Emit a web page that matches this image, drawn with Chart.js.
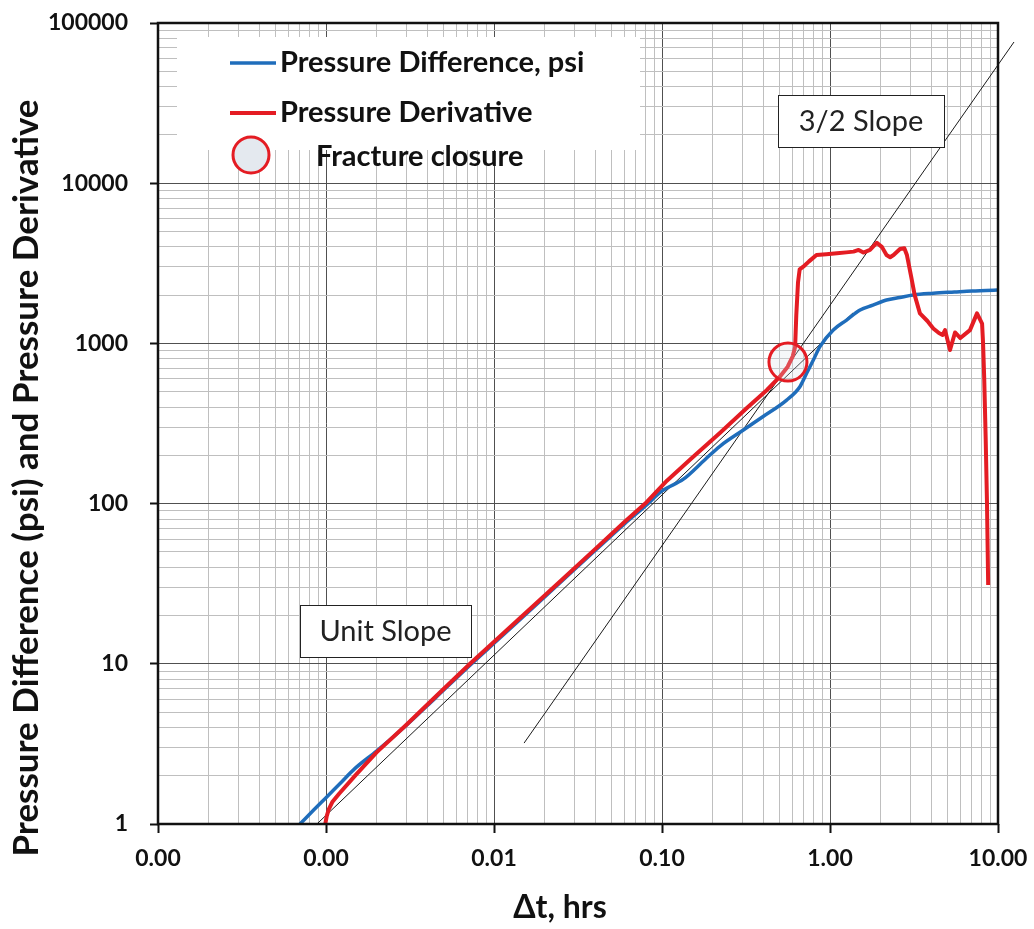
<!DOCTYPE html>
<html>
<head>
<meta charset="utf-8">
<title>Pressure Difference and Pressure Derivative</title>
<script src="https://cdn.jsdelivr.net/npm/chart.js@4.4.1/dist/chart.umd.min.js"></script>
<style>
  html, body { margin: 0; padding: 0; background: #fff; }
  #wrap { position: relative; width: 1034px; height: 929px; }
</style>
</head>
<body>
<div id="wrap"><canvas id="myChart"></canvas></div>
<script>
'use strict'

// ------------------------- Data -------------------------------------- //
// Pressure Difference, psi (blue)
const diffX = [0.0007, 0.00085, 0.001, 0.0012, 0.0015, 0.002, 0.003, 0.0045, 0.0072, 0.011, 0.016, 0.025, 0.04, 0.06, 0.08, 0.1, 0.134, 0.18, 0.221, 0.305, 0.4, 0.552, 0.662, 0.726, 0.8, 0.871, 1.046, 1.25, 1.51, 1.8, 2.17, 2.6, 3.13, 4.12, 5.5, 7.0, 8.5, 9.9];
const diffY = [1.0, 1.23, 1.46, 1.77, 2.24, 2.85, 4.12, 6.15, 9.8, 14.7, 21.1, 32.4, 51, 75, 97, 120, 142, 188, 228, 288, 350, 443, 537, 651, 796, 954, 1213, 1394, 1616, 1733, 1866, 1935, 2005, 2055, 2094, 2126, 2140, 2155];

// Pressure Derivative (red)
const derivX = [0.00099, 0.00101, 0.00104, 0.00109, 0.0012, 0.0015, 0.002, 0.003, 0.0045, 0.0072, 0.011, 0.016, 0.025, 0.04, 0.06, 0.081, 0.107, 0.15, 0.221, 0.32, 0.42, 0.503, 0.56, 0.60, 0.62, 0.63, 0.645, 0.66, 0.693, 0.75, 0.831, 0.95, 1.1, 1.25, 1.38, 1.48, 1.58, 1.73, 1.90, 2.04, 2.17, 2.28, 2.39, 2.61, 2.77, 2.87, 3.04, 3.19, 3.43, 3.8, 4.12, 4.45, 4.68, 4.84, 5.18, 5.55, 5.97, 6.81, 7.5, 8.04, 8.15, 8.28, 8.45, 8.6, 8.74];
const derivY = [1.0, 1.12, 1.24, 1.37, 1.55, 2.02, 2.8, 4.15, 6.25, 10.0, 15.0, 21.5, 33, 52, 77, 102, 139, 192, 276, 395, 510, 620, 715, 830, 950, 1500, 2400, 2900, 3010, 3250, 3560, 3600, 3650, 3700, 3740, 3830, 3690, 3830, 4250, 3990, 3560, 3450, 3560, 3880, 3930, 3560, 2620, 2010, 1540, 1380, 1240, 1160, 1128, 1210, 910, 1170, 1080, 1210, 1540, 1330, 1000, 600, 250, 100, 31];

// Fracture closure marker
const closureX = [0.562];
const closureY = [765];

// straight reference lines
const unitSlopeX = [0.000883, 1.37];
const unitSlopeY = [1, 1550];
const threeHalfX = [0.0151, 12.45];
const threeHalfY = [3.2, 76100];

// axes
const xMajor = [0.0001, 0.001, 0.01, 0.1, 1, 10];
const xLabels = ['0.00', '0.00', '0.01', '0.10', '1.00', '10.00'];
const yMajor = [1, 10, 100, 1000, 10000, 100000];
const yLabels = ['1', '10', '100', '1000', '10000', '100000'];
const minorSteps = [1, 2, 3, 4, 5, 6, 7, 8, 9];

const blue = '#1f6dbb';
const red = '#e41c23';
const fontFamily = 'Lato, "Open Sans", "DejaVu Sans", sans-serif';

// ------------------------- Funciones -------------------------------------- //
function toPoints(xs, ys) {
    let arr = [];
    for (let i = 0; i < xs.length; i++) {
        arr.push({x: xs[i], y: ys[i]});
    }
    return arr;
}

function logTicks(majors) {
    let arr = [];
    for (let i = 0; i < majors.length - 1; i++) {
        for (let m of minorSteps) {
            arr.push({value: majors[i] * m, major: m === 1});
        }
    }
    arr.push({value: majors[majors.length - 1], major: true});
    return arr;
}

function labelFor(value, majors, labels) {
    for (let i = 0; i < majors.length; i++) {
        if (Math.abs(value - majors[i]) / majors[i] < 1e-6) {
            return labels[i];
        }
    }
    return '';
}

function isMajorTick(ctx) {
    return ctx.tick && ctx.tick.major;
}

// ------------------------- Plugin (legend, boxes, frame, titles) ---------- //
const decorations = {
    id: 'decorations',
    beforeDatasetsDraw(chart) {
        const c = chart.ctx;
        const a = chart.chartArea;
        c.save();
        c.fillStyle = '#ffffff';
        c.fillRect(a.left + 19, a.top + 14, 463, 113);
        c.restore();
    },
    afterDatasetsDraw(chart) {
        const c = chart.ctx;
        const a = chart.chartArea;
        c.save();

        // legend
        c.lineCap = 'butt';
        c.lineWidth = 3.5;
        c.strokeStyle = blue;
        c.beginPath(); c.moveTo(a.left + 72, a.top + 40); c.lineTo(a.left + 118, a.top + 40); c.stroke();
        c.lineWidth = 4;
        c.strokeStyle = red;
        c.beginPath(); c.moveTo(a.left + 72, a.top + 90); c.lineTo(a.left + 118, a.top + 90); c.stroke();
        c.beginPath();
        c.arc(a.left + 93, a.top + 132, 18, 0, Math.PI * 2);
        c.fillStyle = '#e4e9ef';
        c.fill();
        c.lineWidth = 3;
        c.strokeStyle = red;
        c.stroke();

        c.fillStyle = '#111';
        c.textAlign = 'left';
        c.textBaseline = 'alphabetic';
        c.font = 'bold 29px ' + fontFamily;
        c.fillText('Pressure Difference, psi', a.left + 122, a.top + 49);
        c.fillText('Pressure Derivative', a.left + 122, a.top + 99);
        c.fillText('Fracture closure', a.left + 158, a.top + 143);

        // slope labels
        c.font = '29px ' + fontFamily;
        c.textAlign = 'center';
        c.textBaseline = 'middle';
        const boxes = [
            {text: '3/2 Slope', x: 778, y: 95, w: 166, h: 52},
            {text: 'Unit Slope', x: 300, y: 605, w: 171, h: 52}
        ];
        for (let b of boxes) {
            c.fillStyle = '#fff';
            c.fillRect(b.x, b.y, b.w, b.h);
            c.lineWidth = 1;
            c.strokeStyle = '#222';
            c.strokeRect(b.x + 0.5, b.y + 0.5, b.w, b.h);
            c.fillStyle = '#222';
            c.fillText(b.text, b.x + b.w / 2, b.y + b.h / 2 + 1);
        }
        c.restore();
    },
    afterDraw(chart) {
        const c = chart.ctx;
        const a = chart.chartArea;
        c.save();
        c.lineWidth = 2.5;
        c.strokeStyle = '#111';
        c.strokeRect(a.left, a.top, a.right - a.left, a.bottom - a.top);

        c.fillStyle = '#111';
        c.textAlign = 'center';
        c.textBaseline = 'middle';
        c.font = 'bold 32px ' + fontFamily;
        c.fillText('\u0394t, hrs', 560, 908);

        c.translate(27, 478);
        c.rotate(-Math.PI / 2);
        c.font = 'bold 35px ' + fontFamily;
        c.fillText('Pressure Difference (psi) and Pressure Derivative', 0, 0);
        c.restore();
    }
};

// ------------------------- Chart -------------------------------------- //
const ctx = document.getElementById('myChart').getContext('2d');
const myChart = new Chart(ctx, {
    type: 'line',
    data: {
        datasets: [
            {
                label: 'Fracture closure',
                data: toPoints(closureX, closureY),
                showLine: false,
                pointRadius: 19,
                pointHoverRadius: 19,
                pointBorderWidth: 3,
                pointBorderColor: red,
                pointBackgroundColor: 'rgba(215,222,232,0.25)',
                order: 0
            },
            {
                label: 'Pressure Derivative',
                data: toPoints(derivX, derivY),
                borderColor: red,
                borderWidth: 4,
                pointRadius: 0,
                tension: 0,
                borderJoinStyle: 'round',
                order: 1
            },
            {
                label: 'Pressure Difference, psi',
                data: toPoints(diffX, diffY),
                borderColor: blue,
                borderWidth: 3.5,
                pointRadius: 0,
                cubicInterpolationMode: 'monotone',
                borderJoinStyle: 'round',
                order: 2
            },
            {
                label: 'Unit Slope',
                data: toPoints(unitSlopeX, unitSlopeY),
                borderColor: '#1a1a1a',
                borderWidth: 1,
                pointRadius: 0,
                order: 3
            },
            {
                label: '3/2 Slope',
                data: toPoints(threeHalfX, threeHalfY),
                borderColor: '#1a1a1a',
                borderWidth: 1,
                pointRadius: 0,
                clip: false,
                order: 3
            }
        ]
    },
    options: {
        responsive: true,
        maintainAspectRatio: false,
        animation: false,
        events: [],
        layout: {
            padding: {top: 23, right: 36, left: 0, bottom: 0}
        },
        plugins: {
            legend: {display: false},
            tooltip: {enabled: false}
        },
        scales: {
            x: {
                type: 'logarithmic',
                min: 0.0001,
                max: 10,
                afterBuildTicks: function (scale) {
                    scale.ticks = logTicks(xMajor);
                },
                afterFit: function (scale) {
                    scale.height = 105;
                    scale.paddingLeft = 0;
                    scale.paddingRight = 0;
                },
                border: {display: false},
                grid: {
                    color: ctx => isMajorTick(ctx) ? '#505050' : '#bfbfbf',
                    lineWidth: 1,
                    tickLength: 9,
                    tickWidth: 2,
                    tickColor: ctx => isMajorTick(ctx) ? '#111' : 'rgba(0,0,0,0)'
                },
                ticks: {
                    autoSkip: false,
                    maxRotation: 0,
                    minRotation: 0,
                    padding: 12,
                    color: '#111',
                    font: {family: fontFamily, size: 23, weight: 'bold'},
                    callback: value => labelFor(value, xMajor, xLabels)
                }
            },
            y: {
                type: 'logarithmic',
                min: 1,
                max: 100000,
                afterBuildTicks: function (scale) {
                    scale.ticks = logTicks(yMajor);
                },
                afterFit: function (scale) {
                    scale.width = 158;
                    scale.paddingTop = 0;
                    scale.paddingBottom = 0;
                },
                border: {display: false},
                grid: {
                    color: ctx => isMajorTick(ctx) ? '#505050' : '#bfbfbf',
                    lineWidth: 1,
                    tickLength: 8,
                    tickWidth: 2,
                    tickColor: ctx => isMajorTick(ctx) ? '#111' : 'rgba(0,0,0,0)'
                },
                ticks: {
                    autoSkip: false,
                    padding: 22,
                    color: '#111',
                    font: {family: fontFamily, size: 23, weight: 'bold'},
                    callback: value => labelFor(value, yMajor, yLabels)
                }
            }
        }
    },
    plugins: [decorations]
});
</script>
</body>
</html>
